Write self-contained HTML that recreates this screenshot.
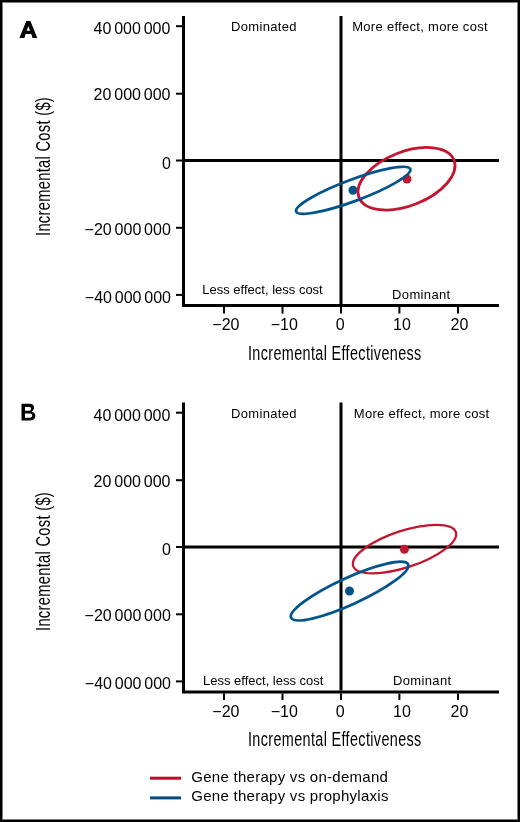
<!DOCTYPE html>
<html><head><meta charset="utf-8"><style>
html,body{margin:0;padding:0;background:#fff}
#f{position:relative;width:520px;height:822px;overflow:hidden;background:#fff}
#bd{position:absolute;left:0;top:0;width:516px;height:818px;border:2px solid #000;box-shadow:inset 0 0 0 1px #7a7a7a}
svg{position:absolute;left:0;top:0}
.t{position:absolute;white-space:nowrap;line-height:1;filter:grayscale(1);font-family:"Liberation Sans",sans-serif;color:#000}
</style></head><body><div id="f">
<svg width="520" height="822" viewBox="0 0 520 822">
<g transform="translate(0 0)">
<path d="M183.5 16 V305.5 H499" fill="none" stroke="#000" stroke-width="3"/>
<path d="M341 16 V304" stroke="#000" stroke-width="3"/>
<path d="M185 160.5 H499" stroke="#000" stroke-width="3"/>
<path d="M176 26.2 H182" stroke="#000" stroke-width="2"/>
<path d="M176 93.7 H182" stroke="#000" stroke-width="2"/>
<path d="M176 160.5 H182" stroke="#000" stroke-width="2"/>
<path d="M176 227.8 H182" stroke="#000" stroke-width="2"/>
<path d="M176 294.9 H182" stroke="#000" stroke-width="2"/>
<path d="M224 307 V313.6" stroke="#000" stroke-width="2"/>
<path d="M282.5 307 V313.6" stroke="#000" stroke-width="2"/>
<path d="M341 307 V313.6" stroke="#000" stroke-width="2"/>
<path d="M399.4 307 V313.6" stroke="#000" stroke-width="2"/>
<path d="M458 307 V313.6" stroke="#000" stroke-width="2"/>
</g>
<g transform="translate(0 386.5)">
<path d="M183.5 16 V305.5 H499" fill="none" stroke="#000" stroke-width="3"/>
<path d="M341 16 V304" stroke="#000" stroke-width="3"/>
<path d="M185 160.5 H499" stroke="#000" stroke-width="3"/>
<path d="M176 26.2 H182" stroke="#000" stroke-width="2"/>
<path d="M176 93.7 H182" stroke="#000" stroke-width="2"/>
<path d="M176 160.5 H182" stroke="#000" stroke-width="2"/>
<path d="M176 227.8 H182" stroke="#000" stroke-width="2"/>
<path d="M176 294.9 H182" stroke="#000" stroke-width="2"/>
<path d="M224 307 V313.6" stroke="#000" stroke-width="2"/>
<path d="M282.5 307 V313.6" stroke="#000" stroke-width="2"/>
<path d="M341 307 V313.6" stroke="#000" stroke-width="2"/>
<path d="M399.4 307 V313.6" stroke="#000" stroke-width="2"/>
<path d="M458 307 V313.6" stroke="#000" stroke-width="2"/>
</g>
<circle cx="353" cy="190.2" r="4.5" fill="#03548a"/>
<circle cx="407" cy="179" r="4.5" fill="#c3152f"/>
<ellipse cx="406.50" cy="178.75" rx="51.03" ry="26.92" transform="rotate(-21.47 406.50 178.75)" fill="none" stroke="#c3152f" stroke-width="2.8"/>
<ellipse cx="353.20" cy="190.30" rx="60.90" ry="10.72" transform="rotate(-20.42 353.20 190.30)" fill="none" stroke="#03548a" stroke-width="2.8"/>
<circle cx="349.5" cy="591" r="4.5" fill="#03548a"/>
<circle cx="404.4" cy="549.3" r="4.5" fill="#c3152f"/>
<ellipse cx="404.50" cy="549.05" rx="54.05" ry="18.28" transform="rotate(-18.26 404.50 549.05)" fill="none" stroke="#c3152f" stroke-width="2.3"/>
<ellipse cx="349.60" cy="591.05" rx="64.35" ry="13.34" transform="rotate(-24.54 349.60 591.05)" fill="none" stroke="#03548a" stroke-width="2.8"/>
<path fill="#000" fill-rule="evenodd" d="M19.4 37.9 L26.3 20.9 L30.4 20.9 L37.3 37.9 L32.5 37.9 L31.3 34.1 L25.6 34.1 L24.4 37.9 Z M28.35 26.3 L26.6 30.8 L30.1 30.8 Z"/>
<path fill="#000" fill-rule="evenodd" d="M21.5 403.8 H29.8 C32.5 403.8 34.1 405.3 34.1 407.6 C34.1 409.4 33.1 410.7 31.7 411.6 C33.9 412.3 35.4 413.9 35.4 416.1 C35.4 418.7 33.3 420.4 30.4 420.4 H21.5 Z M25 406.9 H29.4 C30.5 406.9 31.1 407.6 31.1 408.8 C31.1 410 30.4 410.8 29.3 410.8 H25 Z M25 413.5 H30 C31.4 413.5 32.2 414.4 32.2 415.6 C32.2 416.8 31.3 417.7 30 417.7 H25 Z"/>
<path d="M150 778.2 H181" stroke="#bf0b28" stroke-width="3"/>
<path d="M150 797.9 H181" stroke="#044a7e" stroke-width="3"/>
</svg>
<div class="t" style="left:93.5px;top:21.3px;font-size:16px;word-spacing:-1.6px">40 000 000</div>
<div class="t" style="left:93.6px;top:87.15px;font-size:16px;word-spacing:-1.6px">20 000 000</div>
<div class="t" style="left:161.9px;top:155.8px;font-size:16px;word-spacing:-1.6px">0</div>
<div class="t" style="left:84.6px;top:221.5px;font-size:16px;word-spacing:-1.6px">&minus;20 000 000</div>
<div class="t" style="left:84.8px;top:289.65px;font-size:16px;word-spacing:-1.6px">&minus;40 000 000</div>
<div class="t" style="left:212.29999999999998px;top:317.15px;font-size:16px;">&minus;20</div>
<div class="t" style="left:270.7px;top:317.15px;font-size:16px;">&minus;10</div>
<div class="t" style="left:335.7px;top:317.15px;font-size:16px;">0</div>
<div class="t" style="left:393.0px;top:317.15px;font-size:16px;">10</div>
<div class="t" style="left:450.59999999999997px;top:317.15px;font-size:16px;">20</div>
<div class="t" style="left:93.5px;top:407.8px;font-size:16px;word-spacing:-1.6px">40 000 000</div>
<div class="t" style="left:93.6px;top:473.65px;font-size:16px;word-spacing:-1.6px">20 000 000</div>
<div class="t" style="left:161.9px;top:542.3px;font-size:16px;word-spacing:-1.6px">0</div>
<div class="t" style="left:84.6px;top:608.0px;font-size:16px;word-spacing:-1.6px">&minus;20 000 000</div>
<div class="t" style="left:84.8px;top:676.15px;font-size:16px;word-spacing:-1.6px">&minus;40 000 000</div>
<div class="t" style="left:212.29999999999998px;top:703.65px;font-size:16px;">&minus;20</div>
<div class="t" style="left:270.7px;top:703.65px;font-size:16px;">&minus;10</div>
<div class="t" style="left:335.7px;top:703.65px;font-size:16px;">0</div>
<div class="t" style="left:393.0px;top:703.65px;font-size:16px;">10</div>
<div class="t" style="left:450.59999999999997px;top:703.65px;font-size:16px;">20</div>
<div class="t" style="left:230.9px;top:20.1px;font-size:13px;letter-spacing:0.35px">Dominated</div>
<div class="t" style="left:352.2px;top:20.1px;font-size:13px;letter-spacing:0.3px">More effect, more cost</div>
<div class="t" style="left:202.3px;top:282.8px;font-size:13px;">Less effect, less cost</div>
<div class="t" style="left:392.1px;top:287.5px;font-size:13px;letter-spacing:0.35px">Dominant</div>
<div class="t" style="left:230.9px;top:406.5px;font-size:13px;letter-spacing:0.35px">Dominated</div>
<div class="t" style="left:353.8px;top:406.5px;font-size:13px;letter-spacing:0.3px">More effect, more cost</div>
<div class="t" style="left:203px;top:674.06px;font-size:13px;">Less effect, less cost</div>
<div class="t" style="left:393px;top:674.1px;font-size:13px;letter-spacing:0.35px">Dominant</div>
<div class="t" style="left:247.6px;top:342.8px;font-size:20px;transform:scaleX(0.72);transform-origin:0 0;letter-spacing:0.5px">Incremental Effectiveness</div>
<div class="t" style="left:247.6px;top:729.3px;font-size:20px;transform:scaleX(0.72);transform-origin:0 0;letter-spacing:0.5px">Incremental Effectiveness</div>
<div class="t" style="left:34px;top:236.39999999999998px;font-size:21px;letter-spacing:0.42px;transform-origin:0 0;transform:rotate(-90deg) scaleX(0.70) translate(0,-2px)">Incremental Cost ($)</div>
<div class="t" style="left:34px;top:631.2px;font-size:21px;letter-spacing:0.42px;transform-origin:0 0;transform:rotate(-90deg) scaleX(0.70) translate(0,-2px)">Incremental Cost ($)</div>
<div class="t" style="left:191.3px;top:768.7px;font-size:15px;letter-spacing:0.27px">Gene therapy vs on-demand</div>
<div class="t" style="left:191.3px;top:788.1px;font-size:15px;letter-spacing:0.27px">Gene therapy vs prophylaxis</div>
<div id="bd"></div>
</div></body></html>
